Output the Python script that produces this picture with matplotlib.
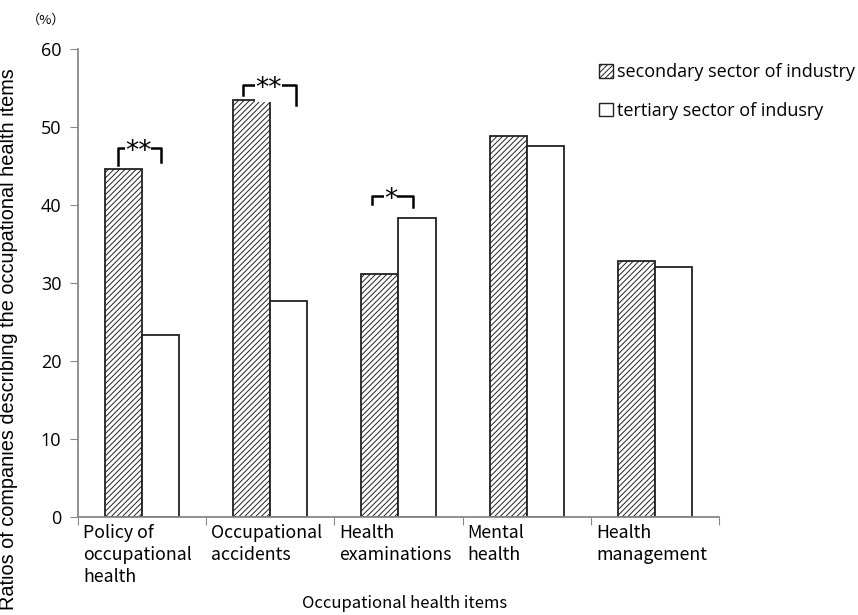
import matplotlib
matplotlib.use("Agg")
import matplotlib.pyplot as plt
from matplotlib.patches import Patch
import numpy as np

plt.rcParams['hatch.linewidth'] = 0.7

categories = ["Policy of\noccupational\nhealth", "Occupational\naccidents", "Health\nexaminations",
              "Mental\nhealth", "Health\nmanagement"]
secondary = [44.6, 53.4, 31.1, 48.8, 32.8]
tertiary = [23.3, 27.7, 38.3, 47.6, 32.0]
series_labels = ["secondary sector of industry", "tertiary sector of indusry"]
yticks = [0, 10, 20, 30, 40, 50, 60]

# significance brackets
sig_cat = [0, 1, 2]
sig_label = ["**", "**", "*"]
sig_top = [47.3, 55.4, 41.2]
sig_lbot = [45.1, 54.1, 40.1]
sig_rbot = [45.5, 52.8, 39.7]
sig_left = [-0.19, -0.21, -0.21]
sig_right = [0.15, 0.20, 0.11]

jp = ['Noto Sans CJK JP', 'DejaVu Sans']
lat = ['Open Sans', 'DejaVu Sans']

fig = plt.figure(figsize=(8.58, 6.15), dpi=100)
ax = fig.add_axes([0.0909, 0.1593, 0.838 - 0.0909, 0.9203 - 0.1593])

x = np.arange(len(categories))
w = 0.29
ax.bar(x - w / 2, secondary, w, color='white', edgecolor='#222222', hatch='//////', linewidth=1.3)
ax.bar(x + w / 2, tertiary, w, color='white', edgecolor='#222222', linewidth=1.3)

ax.set_xlim(-0.5, len(categories) - 0.5)
ax.set_ylim(0, 60)
ax.set_yticks(yticks)
ax.set_yticklabels([str(t) for t in yticks], fontsize=13, family=lat)

ax.set_xticks(np.arange(len(categories) + 1) - 0.5)
ax.set_xticklabels([])
ax.tick_params(axis='x', length=6, color='#888888', direction='out')
ax.tick_params(axis='y', length=6, color='#888888', direction='out', pad=6)
for i, lab in enumerate(categories):
    ax.text(i - 0.5 + 0.04, -0.9, lab, ha='left', va='top', fontsize=12.8, family=jp,
            linespacing=1.28)

for s in ['top', 'right']:
    ax.spines[s].set_visible(False)
for s in ['left', 'bottom']:
    ax.spines[s].set_color('#888888')
    ax.spines[s].set_linewidth(1.3)

ax.set_ylabel("Ratios of companies describing the occupational health items", fontsize=14.3,
              family=['Liberation Sans', 'DejaVu Sans'])
ax.yaxis.set_label_coords(-0.094, 0.38)
fig.text(405 / 858, 1 - 604 / 615, "Occupational health items", ha='center', va='center',
         fontsize=12, family=jp)
fig.text(46 / 858, 1 - 20 / 615, "（%）", ha='center', va='center', fontsize=9.5, family=jp)

for c, lab, l, r, t, lb, rb in zip(sig_cat, sig_label, sig_left, sig_right, sig_top, sig_lbot, sig_rbot):
    ax.plot([c + l, c + l, c + r, c + r], [lb, t, t, rb], color='black', lw=1.8, clip_on=False)
    ax.text(c + (l + r) / 2 - 0.01, t - 0.5, lab, ha='center', va='center', fontsize=19,
            family=['DejaVu Sans'], bbox=dict(facecolor='white', edgecolor='none', pad=0))

handles = [Patch(facecolor='white', edgecolor='#222222', hatch='//////', linewidth=1),
           Patch(facecolor='white', edgecolor='#222222', linewidth=1)]
leg = fig.legend(handles, series_labels, loc='upper left', bbox_to_anchor=(583 / 858, 1 - 47 / 615),
                 frameon=False, handlelength=0.75, handleheight=0.75, handletextpad=0.25,
                 labelspacing=1.15, prop={'family': lat, 'size': 13})

fig.savefig("out.png", dpi=100)
